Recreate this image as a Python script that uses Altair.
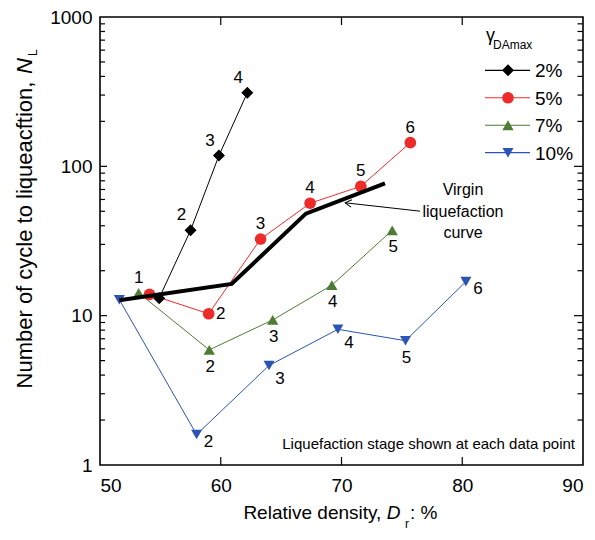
import altair as alt
import pandas as pd

FONT = "Liberation Sans, Arial, Helvetica, sans-serif"

# ---------------- data ----------------
series_names = ["2%", "5%", "7%", "10%"]
series_colors = ["#000000", "#EE2B2B", "#4E7C34", "#2A55B4"]
marker_shapes = ["diamond", "circle", "triangle-up", "triangle-down"]
marker_sizes = [144, 121, 165, 175]
legend_marker_sizes = [170, 115, 175, 175]

dr_2 = [54.9, 57.5, 59.85, 62.2]
nl_2 = [13.1, 37.3, 118, 311]
pl_2 = ["none", "upleft", "upleft", "upleft"]

dr_5 = [54.1, 59.0, 63.3, 67.4, 71.6, 75.7]
nl_5 = [13.9, 10.3, 32.6, 56.6, 73.5, 144]
pl_5 = ["none", "right", "above", "above", "above", "above"]

dr_7 = [53.2, 59.05, 64.3, 69.2, 74.2]
nl_7 = [14.2, 5.9, 9.36, 16.0, 37.3]
pl_7 = ["above", "below", "below", "below", "below"]

dr_10 = [51.6, 58.0, 64.0, 69.7, 75.3, 80.3]
nl_10 = [12.8, 1.6, 4.64, 8.1, 6.8, 16.9]
pl_10 = ["none", "rightlow", "lowright", "lowright", "below", "rightlow"]

virgin_dr = [51.6, 60.9, 67.05, 73.6]
virgin_nl = [12.7, 16.3, 48.2, 77.0]

arrow_dr = [76.5, 70.3]
arrow_nl = [50.1, 57.0]

virgin_label_dr = [80.06]
virgin_label_nl = [68.9]

x_labels = [50, 60, 70, 80, 90]
x_inner_ticks = [60, 70, 80]
y_labels = [1, 10, 100, 1000]
y_major_inner = [10, 100]
y_minor = [m * k for m in [1, 10, 100] for k in range(2, 10)]

rows = []
for name, drs, nls, pls in [("2%", dr_2, nl_2, pl_2), ("5%", dr_5, nl_5, pl_5),
                            ("7%", dr_7, nl_7, pl_7), ("10%", dr_10, nl_10, pl_10)]:
    for i, (d, n, p) in enumerate(zip(drs, nls, pls)):
        rows.append({"series": name, "Dr": d, "NL": n, "stage": i + 1,
                     "label": str(i + 1), "placement": p})
df = pd.DataFrame(rows)
virgin_df = pd.DataFrame({"Dr": virgin_dr, "NL": virgin_nl})
arrow_df = pd.DataFrame({"Dr": [arrow_dr[0]], "NL": [arrow_nl[0]],
                         "Dr2": [arrow_dr[1]], "NL2": [arrow_nl[1]]})
legend_df = pd.DataFrame({"series": series_names})

# ---------------- scales ----------------
W, H = 483, 448
xs = alt.Scale(domain=[50, 90], nice=False, zero=False)
ys = alt.Scale(type="log", domain=[1, 1000], nice=False)
cscale = alt.Scale(domain=series_names, range=series_colors)
shape_scale = alt.Scale(domain=series_names, range=marker_shapes)

ax_x_labels = alt.Axis(values=x_labels, ticks=False, tickSize=0, domain=False, grid=False,
                       labelPadding=11.5, labelFontSize=19, format="d", title=None)
ax_y_labels = alt.Axis(values=y_labels, ticks=False, tickSize=0, domain=False, grid=False,
                       labelPadding=8, labelFontSize=19, format="d", title=None)

base = alt.Chart(df)

lines = base.mark_line(strokeWidth=1).encode(
    x=alt.X("Dr:Q", scale=xs, axis=ax_x_labels),
    y=alt.Y("NL:Q", scale=ys, axis=ax_y_labels),
    color=alt.Color("series:N", scale=cscale, legend=None),
    detail="series:N",
    order="stage:Q",
)

points = base.mark_point(filled=True, opacity=1).encode(
    x=alt.X("Dr:Q", scale=xs, axis=None),
    y=alt.Y("NL:Q", scale=ys, axis=None),
    color=alt.Color("series:N", scale=cscale, legend=None),
    shape=alt.Shape("series:N", scale=shape_scale, legend=None),
    size=alt.Size("series:N", scale=alt.Scale(domain=series_names, range=marker_sizes), legend=None),
)

virgin = alt.Chart(virgin_df).mark_line(color="black", strokeWidth=4).encode(
    x=alt.X("Dr:Q", scale=xs, axis=None),
    y=alt.Y("NL:Q", scale=ys, axis=None),
)

# inward tick marks, placed through the scales
def xtick_layer(vals, y0, y1):
    return alt.Chart(pd.DataFrame({"v": vals})).mark_rule(color="black", strokeWidth=1.2).encode(
        x=alt.X("v:Q", scale=xs, axis=None), y=alt.value(y0), y2=alt.value(y1))

def ytick_layer(vals, x0, x1):
    return alt.Chart(pd.DataFrame({"v": vals})).mark_rule(color="black", strokeWidth=1.2).encode(
        y=alt.Y("v:Q", scale=ys, axis=None), x=alt.value(x0), x2=alt.value(x1))

ticks = [
    xtick_layer(x_inner_ticks, H, H - 8),
    xtick_layer(x_inner_ticks, 0, 8),
    ytick_layer(y_major_inner, 0, 7),
    ytick_layer(y_minor, 0, 5),
    ytick_layer(y_major_inner, W, W - 9),
    ytick_layer(y_minor, W, W - 5.5),
]

offsets = {"above": (0, -15), "upleft": (-9, -15), "right": (12, 0),
           "below": (1, 17), "lowright": (11, 14), "rightlow": (12, 7)}
label_layers = []
for p, (ddx, ddy) in offsets.items():
    label_layers.append(
        base.transform_filter(alt.datum.placement == p).mark_text(
            fontSize=17, font=FONT, color="black", dx=ddx, dy=ddy,
            align="center", baseline="middle").encode(
            x=alt.X("Dr:Q", scale=xs, axis=None),
            y=alt.Y("NL:Q", scale=ys, axis=None),
            text="label:N")
    )

arrow_line = alt.Chart(arrow_df).mark_rule(color="black", strokeWidth=1).encode(
    x=alt.X("Dr:Q", scale=xs, axis=None), y=alt.Y("NL:Q", scale=ys, axis=None),
    x2="Dr2:Q", y2="NL2:Q")
arrow_head = alt.Chart(arrow_df).mark_point(
    shape="M-1,-0.6L0,0L-1,0.6", filled=False, color="black", strokeWidth=1,
    size=160, angle=186, opacity=1).encode(
    x=alt.X("Dr2:Q", scale=xs, axis=None), y=alt.Y("NL2:Q", scale=ys, axis=None))

virgin_text_df = pd.DataFrame({"Dr": virgin_label_dr, "NL": virgin_label_nl,
                               "t": ["Virgin\nliquefaction\ncurve"]})
virgin_text = alt.Chart(virgin_text_df).mark_text(
    font=FONT, fontSize=16, lineBreak="\n", lineHeight=21.5, align="center",
    baseline="middle", color="black").encode(
    x=alt.X("Dr:Q", scale=xs, axis=None), y=alt.Y("NL:Q", scale=ys, axis=None), text="t:N")

# legend: rows placed by a point scale of their own
leg_y = alt.Y("series:N", scale=alt.Scale(type="point", domain=series_names,
                                          range=[53.3, 135.7], padding=0), axis=None)
leg_base = alt.Chart(legend_df)
legend_lines = leg_base.mark_rule(strokeWidth=1.2).encode(
    y=leg_y, x=alt.value(385), x2=alt.value(430),
    color=alt.Color("series:N", scale=cscale, legend=None))
legend_points = leg_base.mark_point(filled=True, opacity=1).encode(
    y=leg_y, x=alt.value(408),
    color=alt.Color("series:N", scale=cscale, legend=None),
    shape=alt.Shape("series:N", scale=shape_scale, legend=None),
    size=alt.Size("series:N", scale=alt.Scale(domain=series_names, range=legend_marker_sizes),
                  legend=None))
legend_text = leg_base.mark_text(font=FONT, fontSize=19, align="left", baseline="middle",
                                 color="black", dy=1).encode(
    y=leg_y, x=alt.value(435), text="series:N")

# text annotations (titles, legend title, note)
def txt(s, x, y, size, align="left", baseline="alphabetic", angle=0, style="normal"):
    kw = dict(text=s, font=FONT, fontSize=size, align=align, baseline=baseline,
              color="black", fontStyle=style)
    if angle:
        kw["angle"] = angle
    return alt.Chart(pd.DataFrame({"a": [0]})).mark_text(**kw).encode(
        x=alt.value(x), y=alt.value(y))

annots = [
    txt("Relative density,", 212.4, 502, 19, align="center"),
    txt("D", 286.7, 502, 19, style="italic"),
    txt("r", 305, 511, 12),
    txt(": %", 310, 502, 19),
    txt("Number of cycle to liqueacftion,", -68, 218, 22, align="center", angle=270),
    txt("N", -68, 57, 22, angle=270, style="italic"),
    txt("L", -63, 39, 12, angle=270),
    txt("γ", 386, 24, 18),
    txt("DAmax", 393, 32, 12),
    txt("Liquefaction stage shown at each data point", 475, 432, 15, align="right"),
]

chart = alt.layer(
    lines, points, virgin, *ticks, *label_layers, arrow_line, arrow_head, virgin_text,
    legend_lines, legend_points, legend_text, *annots
).resolve_axis(x="independent", y="independent").resolve_scale(
    y="independent"
).properties(
    width=W, height=H,
    autosize=alt.AutoSizeParams(type="none"),
    padding={"left": 92, "top": 9, "right": 4, "bottom": 65},
).configure_view(stroke="black", strokeWidth=1.6).configure_axis(
    labelFont=FONT, labelColor="black"
)

chart.save("out.html", embed_options={"renderer": "svg", "actions": False})
